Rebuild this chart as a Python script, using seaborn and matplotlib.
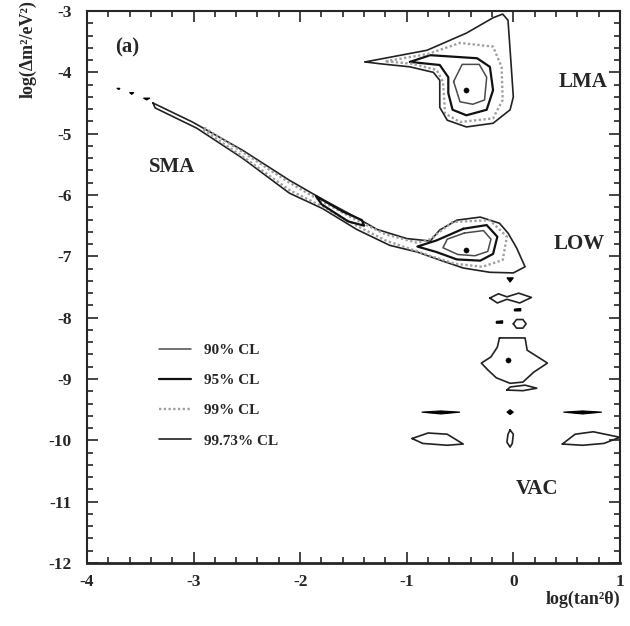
import numpy as np
import pandas as pd
import matplotlib.pyplot as plt
from matplotlib.ticker import MultipleLocator
import seaborn as sns

# contour outlines: (log tan^2 theta, log dm^2)
lma_9973 = [(-1.39, -3.83), (-0.81, -3.64), (-0.44, -3.36), (-0.19, -3.11), (-0.10, -3.05),
            (-0.05, -3.15), (-0.03, -3.64), (0.00, -4.40), (-0.03, -4.61), (-0.19, -4.83),
            (-0.44, -4.89), (-0.62, -4.78), (-0.69, -4.57), (-0.69, -4.13), (-0.75, -4.00),
            (-0.97, -3.91), (-1.25, -3.86), (-1.39, -3.83)]
lma_99 = [(-1.20, -3.82), (-0.80, -3.70), (-0.50, -3.52), (-0.19, -3.58), (-0.11, -3.91),
          (-0.10, -4.45), (-0.19, -4.75), (-0.50, -4.81), (-0.64, -4.67), (-0.66, -4.15),
          (-0.72, -3.96), (-0.95, -3.86), (-1.20, -3.82)]
lma_95 = [(-0.97, -3.83), (-0.78, -3.72), (-0.34, -3.77), (-0.22, -3.91), (-0.19, -4.29),
          (-0.25, -4.61), (-0.44, -4.70), (-0.57, -4.61), (-0.61, -4.34), (-0.61, -4.08),
          (-0.69, -3.88), (-0.97, -3.83)]
lma_90 = [(-0.56, -4.15), (-0.50, -4.48), (-0.38, -4.52), (-0.27, -4.45), (-0.25, -4.08),
          (-0.32, -3.87), (-0.48, -3.87), (-0.56, -4.15)]

sma_low_9973 = [(-3.38, -4.50), (-3.01, -4.81), (-2.54, -5.27), (-2.10, -5.76), (-1.79, -6.07),
                (-1.47, -6.37), (-1.28, -6.56), (-1.00, -6.71), (-0.78, -6.75), (-0.69, -6.57),
                (-0.53, -6.41), (-0.31, -6.36), (-0.13, -6.46), (-0.05, -6.62), (0.03, -6.86),
                (0.11, -7.17), (0.00, -7.27), (-0.22, -7.26), (-0.47, -7.19), (-0.69, -7.06),
                (-0.90, -6.93), (-1.16, -6.82), (-1.47, -6.56), (-1.79, -6.22), (-2.10, -5.97),
                (-2.54, -5.40), (-2.97, -4.91), (-3.36, -4.58), (-3.38, -4.50)]
sma_low_99 = [(-2.90, -4.90), (-2.54, -5.30), (-2.10, -5.80), (-1.80, -6.10), (-1.47, -6.41),
              (-1.20, -6.64), (-0.90, -6.78), (-0.78, -6.72), (-0.57, -6.44), (-0.22, -6.41),
              (-0.06, -6.68), (-0.10, -7.06), (-0.29, -7.17), (-0.55, -7.12), (-0.80, -6.98),
              (-1.20, -6.74), (-1.47, -6.50), (-1.80, -6.18), (-2.10, -5.92), (-2.54, -5.37),
              (-2.90, -4.95), (-2.90, -4.90)]
low_95 = [(-0.47, -6.55), (-0.25, -6.49), (-0.15, -6.68), (-0.19, -6.96), (-0.31, -7.07),
          (-0.53, -7.05), (-0.72, -6.93), (-0.90, -6.84), (-0.72, -6.74), (-0.47, -6.55)]
low_90 = [(-0.46, -6.62), (-0.28, -6.58), (-0.21, -6.72), (-0.24, -6.92), (-0.36, -6.99),
          (-0.52, -6.97), (-0.66, -6.86), (-0.62, -6.72), (-0.46, -6.62)]
sma_95 = [(-1.85, -6.02), (-1.60, -6.27), (-1.42, -6.41), (-1.40, -6.50), (-1.55, -6.43),
          (-1.80, -6.15), (-1.85, -6.02)]

vac_loop = [(-0.22, -7.68), (-0.14, -7.61), (-0.06, -7.66), (0.05, -7.60), (0.17, -7.67),
            (0.06, -7.76), (-0.06, -7.70), (-0.15, -7.76), (-0.22, -7.68)]
vac_ring = [(0.00, -8.10), (0.03, -8.03), (0.09, -8.03), (0.12, -8.10), (0.09, -8.17),
            (0.03, -8.17), (0.00, -8.10)]
vac_bell = [(-0.13, -8.33), (0.11, -8.33), (0.13, -8.53), (0.32, -8.74), (0.19, -8.89),
            (0.09, -9.05), (-0.03, -9.07), (-0.16, -8.98), (-0.24, -8.85), (-0.30, -8.74),
            (-0.21, -8.64), (-0.15, -8.48), (-0.13, -8.33)]
vac_lens = [(-0.06, -9.18), (0.09, -9.19), (0.22, -9.15), (0.11, -9.10), (-0.03, -9.13),
            (-0.06, -9.18)]
vac_left = [(-0.95, -9.97), (-0.80, -9.88), (-0.62, -9.90), (-0.47, -10.06), (-0.62, -10.08),
            (-0.85, -10.05), (-0.95, -9.97)]
vac_mid = [(-0.03, -9.83), (0.00, -9.90), (-0.01, -10.05), (-0.03, -10.11), (-0.06, -10.03),
           (-0.05, -9.90), (-0.03, -9.83)]
vac_right = [(0.46, -10.06), (0.58, -9.90), (0.75, -9.86), (1.00, -9.95), (0.85, -10.05),
             (0.65, -10.08), (0.46, -10.06)]

# filled specks (dashes and dots)
specks = [
    [(-0.86, -9.54), (-0.68, -9.52), (-0.50, -9.54), (-0.68, -9.57)],
    [(0.47, -9.54), (0.65, -9.52), (0.83, -9.54), (0.65, -9.57)],
    [(-0.06, -9.54), (-0.03, -9.50), (0.00, -9.54), (-0.03, -9.58)],
    [(-0.06, -7.35), (0.00, -7.35), (-0.03, -7.42)],
    [(0.01, -7.86), (0.07, -7.85), (0.07, -7.89), (0.01, -7.89)],
    [(-0.16, -8.06), (-0.10, -8.05), (-0.10, -8.09), (-0.16, -8.09)],
    [(-3.60, -4.33), (-3.56, -4.33), (-3.58, -4.36)],
    [(-3.47, -4.42), (-3.41, -4.42), (-3.44, -4.45)],
    [(-3.72, -4.26), (-3.69, -4.26), (-3.70, -4.28)],
]

best_fit_x = [-0.44, -0.44, -0.05]
best_fit_y = [-4.29, -6.90, -8.69]

levels = ["90% CL", "95% CL", "99% CL", "99.73% CL"]
level_style = {
    "90% CL": dict(color="#4a4a4a", lw=1.1, ls="-"),
    "95% CL": dict(color="#111111", lw=1.6, ls="-"),
    "99% CL": dict(color="#a0a0a0", lw=1.7, ls=(0, (1, 1))),
    "99.73% CL": dict(color="#222222", lw=1.2, ls="-"),
}

contours = [
    (lma_90, "90% CL", True), (lma_95, "95% CL", True), (lma_99, "99% CL", True),
    (lma_9973, "99.73% CL", True),
    (sma_low_9973, "99.73% CL", False), (sma_low_99, "99% CL", False),
    (low_95, "95% CL", False), (low_90, "90% CL", False), (sma_95, "95% CL", False),
    (vac_loop, "99.73% CL", False), (vac_ring, "99.73% CL", False),
    (vac_bell, "99.73% CL", False), (vac_lens, "99.73% CL", False),
    (vac_left, "99.73% CL", False), (vac_mid, "99.73% CL", False),
    (vac_right, "99.73% CL", False),
]

sns.set_style("ticks")
plt.rcParams["font.family"] = ["Liberation Serif", "DejaVu Serif"]
plt.rcParams["font.weight"] = "bold"
plt.rcParams["axes.unicode_minus"] = False

fig, ax = plt.subplots(figsize=(6.3, 6.26), dpi=100)
fig.subplots_adjust(left=0.138, right=0.984, bottom=0.1006, top=0.9824)

for pts, lev, lab in contours:
    df = pd.DataFrame(pts, columns=["x", "y"])
    st = level_style[lev]
    sns.lineplot(data=df, x="x", y="y", sort=False, estimator=None, ax=ax,
                 color=st["color"], lw=st["lw"], ls=st["ls"],
                 label=lev if lab else None, legend=False)

for sp in specks:
    arr = np.array(sp)
    ax.fill(arr[:, 0], arr[:, 1], color="black", lw=0.8, ec="black")

sns.scatterplot(x=best_fit_x, y=best_fit_y, color="black", s=14, marker="o",
                edgecolor="black", ax=ax, legend=False)

ax.set_xlim(-4, 1)
ax.set_ylim(-12, -3)
ax.xaxis.set_major_locator(MultipleLocator(1))
ax.xaxis.set_minor_locator(MultipleLocator(0.2))
ax.yaxis.set_major_locator(MultipleLocator(1))
ax.yaxis.set_minor_locator(MultipleLocator(0.2))
ax.tick_params(which="both", direction="in", top=True, right=True, width=1.2)
ax.tick_params(which="major", length=8, labelsize=12.5)
ax.tick_params(which="minor", length=4)
ax.tick_params(axis="x", which="major", pad=8)
ax.tick_params(axis="y", which="major", pad=11)
for lbl in ax.get_xticklabels() + ax.get_yticklabels():
    lbl.set_fontweight("bold")
for side in ["left", "right", "top"]:
    ax.spines[side].set_linewidth(1.5)
ax.spines["bottom"].set_linewidth(2.0)

ax.set_xlabel("log(tan²θ)", fontsize=13, fontweight="bold", ha="right")
ax.xaxis.set_label_coords(1.0, -0.05)
ax.set_ylabel("log(Δm²/eV²)", fontsize=13, fontweight="bold", ha="right")
ax.yaxis.set_label_coords(-0.095, 1.02)

ax.text(-3.62, -3.60, "(a)", fontsize=15, fontweight="bold", ha="center", va="center")
ax.text(0.65, -4.16, "LMA", fontsize=15, fontweight="bold", ha="center", va="center")
ax.text(-3.20, -5.54, "SMA", fontsize=15, fontweight="bold", ha="center", va="center")
ax.text(0.62, -6.80, "LOW", fontsize=15, fontweight="bold", ha="center", va="center")
ax.text(0.22, -10.79, "VAC", fontsize=15, fontweight="bold", ha="center", va="center")

ax.legend(loc="upper left", bbox_to_anchor=(0.11, 0.423), frameon=False,
          prop=dict(family="Liberation Serif", weight="bold", size=11),
          handlelength=2.1, labelspacing=1.08, handletextpad=0.8)

fig.savefig("out.png", dpi=100)
plt.close(fig)
